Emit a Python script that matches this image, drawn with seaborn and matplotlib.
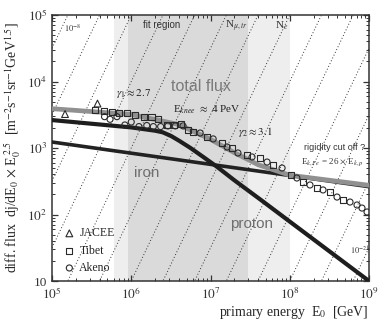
import numpy as np
import pandas as pd
import matplotlib.pyplot as plt
import seaborn as sns
from matplotlib.ticker import LogLocator, FixedLocator, FixedFormatter, NullFormatter

# ---------------------------
# Data
# ---------------------------
proton_E = [1e5, 1e6, 2e6, 2.5e6, 3.2e6, 4e6, 5.6e6, 8e6, 1.2e7, 2e7, 4.2e7, 1e9]
proton_flux = [2630, 2040, 1820, 1720, 1510, 1290, 1000, 741, 525, 327, 170, 10]

iron_E = [1e5, 1e9]
iron_flux = [1230, 262]

total_E = [1e5, 1e6, 4e6, 1e7, 2e7, 4e7, 1e8, 1e9]
total_flux = [3900, 3200, 2250, 1350, 850, 560, 390, 275]

jacee_E = [1.46e5, 3.75e5]
jacee_flux = [3240, 4660]

tibet_E = [3.5e5, 4.5e5, 5.7e5, 7.1e5, 8.8e5, 1.13e6, 1.43e6, 1.8e6, 2.2e6, 2.8e6,
           3.5e6, 4.3e6, 5.2e6, 6.0e6, 9.0e6, 1.4e7, 1.87e7, 2.89e7, 4.22e7, 6.15e7,
           1.04e8, 1.47e8, 2.21e8, 3.22e8, 4.7e8]
tibet_flux = [3730, 3600, 3480, 3360, 3360, 3130, 2960, 2900, 2700, 2220,
              2220, 2300, 1870, 1740, 1460, 1190, 1000, 785, 708, 555,
              393, 308, 250, 218, 165]

akeno_E = [4.6e5, 5.4e5, 6.6e5, 8.3e5, 1.0e6, 1.25e6, 1.57e6, 1.9e6, 2.35e6, 2.9e6,
           3.6e6, 4.5e6, 7.4e6, 1.08e7, 1.62e7, 2.22e7, 3.34e7, 5.17e7, 8.0e7, 1.23e8,
           1.8e8, 2.63e8, 3.95e8, 5.76e8, 7.06e8, 8.16e8, 9.45e8]
akeno_flux = [2960, 2700, 2960, 2220, 2460, 2100, 2180, 2100, 2100, 2150,
              2150, 2150, 1680, 1370, 1035, 841, 733, 615, 500, 354,
              278, 234, 183, 154, 139, 125, 109]

# iso-flux lines dj/dE = const (labelled 10^-8 ... 10^-21)
iso_levels = [10.0 ** -k for k in range(8, 22)]
iso_E = [1e5, 1e9]

# shaded energy ranges
wide_band = [6e5, 1e8]
fit_band = [9e5, 3e7]

x_ticks = [1e5, 1e6, 1e7, 1e8, 1e9]
x_ticklabels = ['$10^5$', '$10^6$', '$10^7$', '$10^8$', '$10^9$']
y_ticks = [1e1, 1e2, 1e3, 1e4, 1e5]
y_ticklabels = ['10', '$10^2$', '$10^3$', '$10^4$', '$10^5$']

# ---------------------------
# Style
# ---------------------------
sns.set_theme(style='ticks')
plt.rcParams['font.family'] = ['Liberation Serif', 'DejaVu Serif']
plt.rcParams['mathtext.fontset'] = 'stix'
plt.rcParams['axes.edgecolor'] = '#333333'
plt.rcParams['axes.linewidth'] = 1.1

fig = plt.figure(figsize=(3.82, 3.27), dpi=100)
ax = fig.add_axes([52 / 382, 1 - 281 / 327, 317 / 382, 266 / 327])
ax.set_xscale('log')
ax.set_yscale('log')
ax.set_xlim(1e5, 1e9)
ax.set_ylim(10, 1e5)

# shaded regions
ax.axvspan(wide_band[0], wide_band[1], color='#eeeeee', lw=0, zorder=0)
ax.axvspan(fit_band[0], fit_band[1], color='#dadada', lw=0, zorder=0)

# dotted iso lines
E_arr = np.array(iso_E)
for lev in iso_levels:
    ax.plot(E_arr, lev * E_arr ** 2.5, color='#333333', lw=0.7,
            ls=(0, (1, 2.2)), zorder=1)

# model lines
sns.lineplot(x=iron_E, y=iron_flux, ax=ax, color='#222222', lw=2.6,
             estimator=None, sort=False, zorder=3)
sns.lineplot(x=total_E, y=total_flux, ax=ax, color='#909090', lw=3.4,
             estimator=None, sort=False, zorder=4)
sns.lineplot(x=proton_E, y=proton_flux, ax=ax, color='#1e1e1e', lw=3.0,
             estimator=None, sort=False, zorder=5)

# measurements
mk = dict(facecolor='none', edgecolor='#2a2a2a', linewidth=0.8, zorder=6, ax=ax)
sns.scatterplot(x=jacee_E, y=jacee_flux, marker='^', s=24, label='JACEE', **mk)
sns.scatterplot(x=tibet_E, y=tibet_flux, marker='s', s=19, label='Tibet', **mk)
sns.scatterplot(x=akeno_E, y=akeno_flux, marker='o', s=19, label='Akeno', **mk)

leg = ax.legend(loc='lower left', bbox_to_anchor=(0.01, -0.005), frameon=False,
                handletextpad=0.35, labelspacing=0.45, borderpad=0.2,
                handlelength=1.0, fontsize=8.5)

# ticks
ax.xaxis.set_major_locator(FixedLocator(x_ticks))
ax.xaxis.set_major_formatter(FixedFormatter(x_ticklabels))
ax.yaxis.set_major_locator(FixedLocator(y_ticks))
ax.yaxis.set_major_formatter(FixedFormatter(y_ticklabels))
ax.xaxis.set_minor_locator(LogLocator(base=10, subs=np.arange(2, 10)))
ax.yaxis.set_minor_locator(LogLocator(base=10, subs=np.arange(2, 10)))
ax.xaxis.set_minor_formatter(NullFormatter())
ax.yaxis.set_minor_formatter(NullFormatter())
ax.tick_params(which='both', direction='in', top=True, right=True,
               colors='#333333', labelsize=9.5)
ax.tick_params(which='major', length=4, width=0.9)
ax.tick_params(which='minor', length=2, width=0.7)
ax.tick_params(axis='x', pad=4)

ax.set_xlabel(r'primary energy  E$_0$  [GeV]', fontsize=10, loc='right', labelpad=1)
ax.set_ylabel(r'diff. flux  dj/dE$_0$ $\times$ E$_0^{\;2.5}$  '
              r'[m$^{-2}$s$^{-1}$sr$^{-1}$GeV$^{1.5}$]', fontsize=10, labelpad=3)

# annotations
sans = 'Liberation Sans'
ax.text(2.44e6, 7.0e4, 'fit region', family=sans, fontsize=7, color='#333333',
        ha='center', va='center')
ax.text(2.1e7, 6.8e4, r'N$_{\mu,tr}$', fontsize=8, color='#333333', ha='center', va='center')
ax.text(8e7, 6.8e4, r'N$_e$', fontsize=8, color='#333333', ha='center', va='center')
ax.text(1.8e5, 6.3e4, r'$10^{-8}$', fontsize=6, color='#333333', ha='center', va='center')
ax.text(7.7e8, 28, r'$10^{-21}$', fontsize=6, color='#333333', ha='center', va='center')
ax.text(7.6e6, 8500, 'total flux', family=sans, fontsize=11.5, color='#7a7a7a',
        ha='center', va='center')
ax.text(1.08e6, 6700, r'$\gamma_1 \approx 2.7$', fontsize=8, color='#222222',
        ha='center', va='center')
ax.text(9.0e6, 3730, r'E$_{knee}$ $\approx$ 4 PeV', fontsize=8, color='#222222',
        ha='center', va='center')
ax.text(3.64e7, 1740, r'$\gamma_2 \approx 3.1$', fontsize=8, color='#222222',
        ha='center', va='center')
ax.text(3.72e8, 1035, 'rigidity cut off ?', family=sans, fontsize=6.5, color='#333333',
        ha='center', va='center')
ax.text(3.5e8, 616, r'E$_{k,Fe}$ = 26 $\times$ E$_{k,p}$', fontsize=6.5, color='#333333',
        ha='center', va='center')
ax.text(1.58e6, 421, 'iron', family=sans, fontsize=11, color='#6e6e6e',
        ha='center', va='center')
ax.text(3.34e7, 72, 'proton', family=sans, fontsize=11, color='#6e6e6e',
        ha='center', va='center')

plt.savefig('out.png', dpi=100)
